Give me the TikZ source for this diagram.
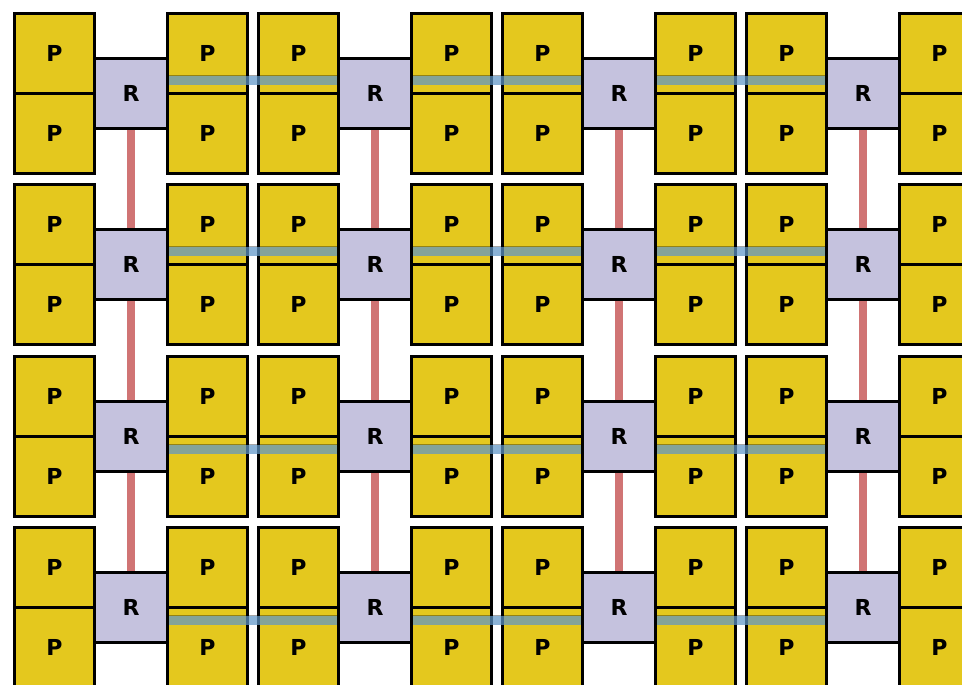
\documentclass[tikz,border=0pt]{standalone}
\usepackage{fontspec}
\setmainfont{DejaVu Sans}
\definecolor{pyellow}{RGB}{228,200,30}
\definecolor{rlav}{RGB}{197,194,222}
\definecolor{vred}{RGB}{208,116,116}
\definecolor{hblue}{RGB}{95,150,200}
\pgfdeclarelayer{bg}
\pgfdeclarelayer{lk}
\pgfsetlayers{bg,lk,main}
\tikzset{
  lbl/.style={font=\fontsize{22}{22}\selectfont\bfseries, text=black},
  pbox/.style={lbl, draw=black, line width=3.3pt, fill=pyellow, minimum width=80pt, minimum height=80pt, inner sep=0pt, outer sep=0pt},
  rbox/.style={lbl, draw=black, line width=3.3pt, fill=rlav, minimum width=73pt, minimum height=70pt, inner sep=0pt, outer sep=0pt},
  vlink/.style={line width=7.5pt, draw=vred},
  hlink/.style={line width=9pt, draw=hblue, draw opacity=0.72},
  hedge/.style={line width=1pt, draw=black, draw opacity=0.35},
}
\begin{document}
\begin{tikzpicture}[x=1pt,y=-1pt]
\useasboundingbox (0,0) rectangle (962,685);
\begin{pgfonlayer}{bg}
\fill[white] (0,0) rectangle (962,685);
\end{pgfonlayer}
\foreach \b in {0,1,2,3}{
  \pgfmathsetmacro\yb{93.5+171.33*\b}
  \begin{pgfonlayer}{bg}
  \foreach \x [count=\c] in {54.5,207.5,298.5,451.5,542.5,695.5,786.5,939.5}{
    \node[pbox] (p\b-\c-t) at (\x,\yb-40) {P};
    \node[pbox] (p\b-\c-b) at (\x,\yb+40) {P};
  }
  \end{pgfonlayer}
  \foreach \k in {0,1,2,3}{
    \node[rbox] (r\b-\k) at (131+244*\k,\yb) {R};
  }
}
\begin{pgfonlayer}{lk}
\foreach \b/\s in {0/13,1/13,2/-13.5,3/-13.5}{
  \foreach \k in {0,1,2}{
    \pgfmathtruncatemacro\kn{\k+1}
    \pgfmathsetmacro\e{\s+5}
    \draw[hlink] ([yshift=\s pt]r\b-\k.east) -- ([yshift=\s pt]r\b-\kn.west);
    \draw[hedge] ([yshift=\e pt]r\b-\k.east) -- ([yshift=\e pt]r\b-\kn.west);
  }
}
\foreach \b in {0,1,2}{
  \pgfmathtruncatemacro\bn{\b+1}
  \foreach \k in {0,1,2,3}{
    \draw[vlink] (r\b-\k.south) -- (r\bn-\k.north);
  }
}
\end{pgfonlayer}
\end{tikzpicture}
\end{document}
